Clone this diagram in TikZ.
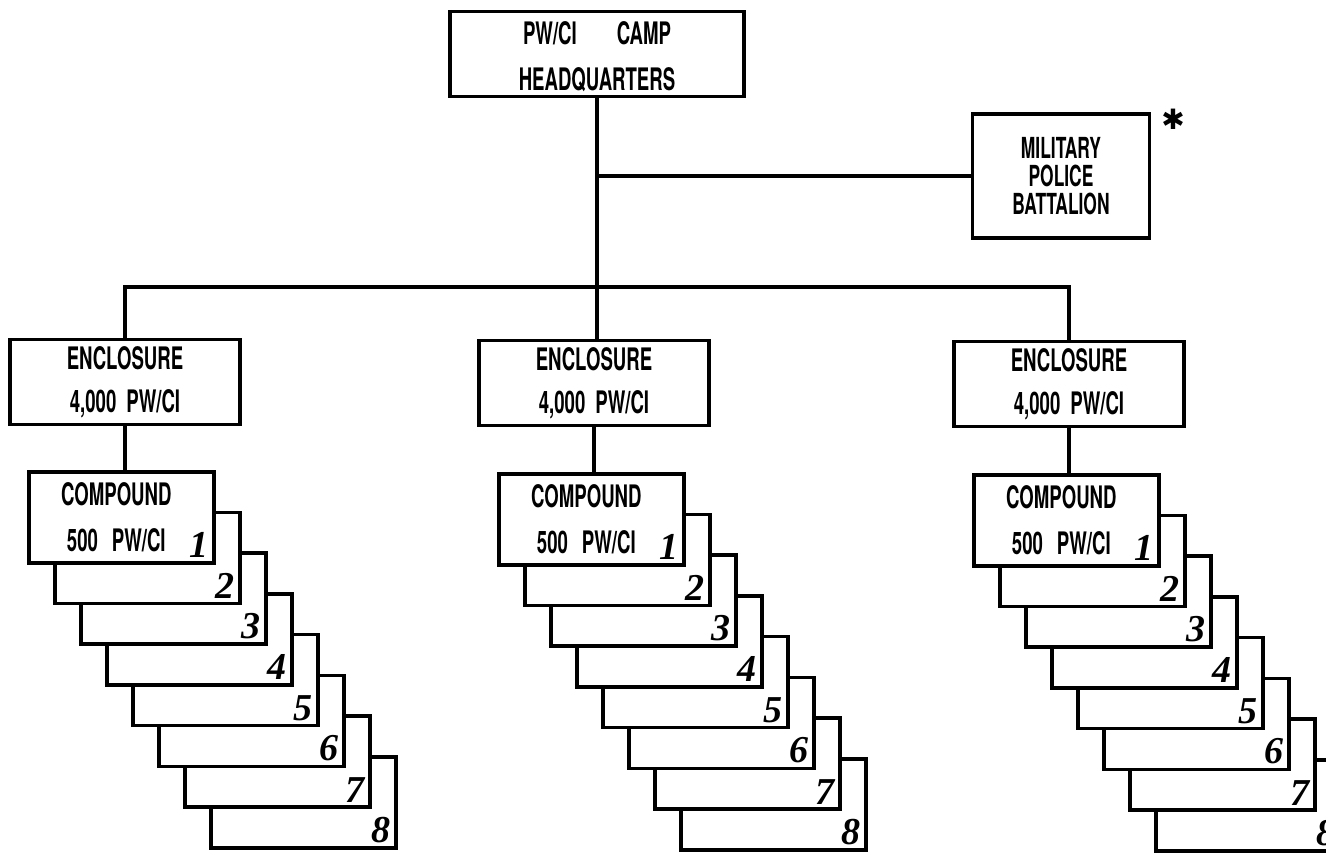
\documentclass[tikz,border=0pt]{standalone}
\usepackage{fontspec}
\setmainfont{TeX Gyre Heros}[FakeStretch=0.6]
\newfontfamily\numfont{Liberation Serif}
\newfontfamily\symfont{DejaVu Sans}
\begin{document}
\begin{tikzpicture}[
		x=0.5pt, y=-0.5pt,
		line width=1.8pt,
		every node/.style={font=\fontsize{15.5}{21.5}\selectfont\bfseries, align=center},
		unit/.style={draw, fill=white, inner sep=0pt},
		hq/.style={unit, minimum width=147pt, minimum height=42.5pt, font=\fontsize{15.5}{23}\selectfont\bfseries},
		mp/.style={unit, minimum width=88.5pt, minimum height=62pt, font=\fontsize{14.5}{14}\selectfont\bfseries},
		encl/.style={unit, minimum width=115pt, minimum height=42.5pt},
		cmp/.style={unit, anchor=north west, minimum width=92.5pt, minimum height=45.5pt},
		cmptext/.style={font=\fontsize{15.5}{23}\selectfont\bfseries, xshift=-2.5pt},
		num/.style={anchor=south east, inner sep=2.5pt, font=\numfont\fontsize{19}{19}\selectfont\bfseries\itshape}
	]
	\useasboundingbox (0,0) rectangle (1326,857);
	\clip (0,0) rectangle (1326,857);
	\node[hq] (hq) at (597,54) {\rule{0pt}{14.5pt}PW/CI\hspace{20pt}CAMP\\HEADQUARTERS};
	\node[mp] (mp) at (1061,176) {MILITARY\\POLICE\\BATTALION};
	\node (star) at (1173,119) {\symfont\fontsize{14}{14}\selectfont ✱};
	\draw (hq.south |- mp.west) -- (mp.west);
	\node[encl] (enc1) at (125,382) {ENCLOSURE\\4,000\hspace{5pt}PW/CI};
	\node[encl] (enc2) at (594,383) {ENCLOSURE\\4,000\hspace{5pt}PW/CI};
	\node[encl] (enc3) at (1069,384) {ENCLOSURE\\4,000\hspace{5pt}PW/CI};
	\coordinate (bar) at (597,287);
	\draw (hq.south) -- (hq.south |- enc2.north);
	\draw (enc1.north) |- (bar) -| (enc3.north);
	\foreach \g/\x/\y in {1/27/470, 2/497/472, 3/972/473} {
		\foreach \i in {8,7,...,1} {
			\node[cmp] (cmp\g-\i) at ({\x+26*(\i-1)},{\y+40.7*(\i-1)}) {};
			\node[num] at (cmp\g-\i.south east) {\i};
		}
		\node[cmptext] at (cmp\g-1) {COMPOUND\\500\hspace{7pt}PW/CI};
		\draw (enc\g.south) -- (enc\g.south |- cmp\g-1.north);
	}
\end{tikzpicture}
\end{document}
